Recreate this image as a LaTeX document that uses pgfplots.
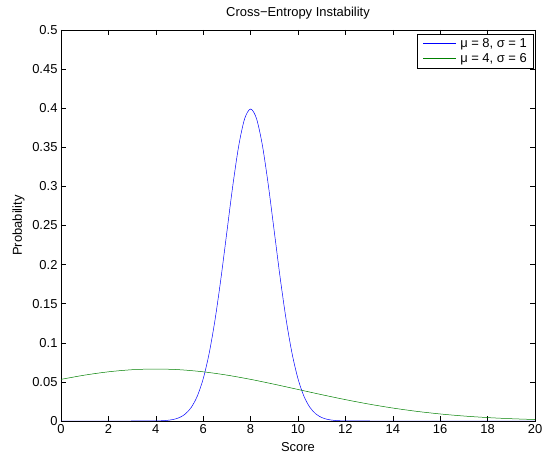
\documentclass[border=0pt]{standalone}
\usepackage{fontspec}
\setmainfont{Liberation Sans}
\usepackage{pgfplots}
\pgfplotsset{compat=1.18}
\definecolor{mblue}{rgb}{0,0,1}
\definecolor{mgreen}{rgb}{0,0.5,0}
\begin{document}
\fontsize{13}{15}\selectfont
\begin{tikzpicture}[x=1bp,y=1bp]
\begin{axis}[
  at={(0,0)}, anchor=south west,
  scale only axis, width=474bp, height=391bp,
  xmin=0, xmax=20, ymin=0, ymax=0.5,
  xtick={0,2,...,20},
  ytick={0,0.05,0.1,0.15,0.2,0.25,0.3,0.35,0.4,0.45,0.5},
  yticklabels={0,0.05,0.1,0.15,0.2,0.25,0.3,0.35,0.4,0.45,0.5},
  tick align=inside, tick pos=both,
  major tick length=5bp,
  tick style={black, line width=0.5pt},
  axis line style={black, line width=0.6pt},
  /pgf/number format/assume math mode=true,
  tick label style={font=\fontsize{13}{15}\selectfont},
  xticklabel style={yshift=1bp},
  yticklabel style={xshift=1bp},
  label style={font=\fontsize{13}{15}\selectfont},
  title style={font=\fontsize{13}{15}\selectfont, yshift=0bp},
  title={Cross\textminus Entropy Instability},
  xlabel={Score}, ylabel={Probability},
  xlabel style={yshift=0bp},
  ylabel style={yshift=-1bp},
  legend style={at={(0.996,0.99)}, anchor=north east, draw=black, line width=0.6pt,
    font=\fontsize{13}{15}\selectfont, inner xsep=4pt, inner ysep=2pt, row sep=0pt,
    /tikz/every odd column/.append style={column sep=0pt}},
  legend cell align=left,
  legend image code/.code={},
]
\addplot[color=mblue, line width=0.5pt, smooth] coordinates {
(0,0) (1,0) (2,0) (3,0.0000015) (3.5,0.000016) (4,0.000134) (4.25,0.000353) (4.5,0.000873) (4.75,0.002029) (5,0.004432)
(5.25,0.00909) (5.5,0.01753) (5.75,0.03174) (6,0.05399) (6.25,0.08628) (6.5,0.12952)
(6.75,0.18265) (7,0.24197) (7.25,0.30114) (7.5,0.35207) (7.75,0.38667) (8,0.39894)
(8.25,0.38667) (8.5,0.35207) (8.75,0.30114) (9,0.24197) (9.25,0.18265) (9.5,0.12952)
(9.75,0.08628) (10,0.05399) (10.25,0.03174) (10.5,0.01753) (10.75,0.00909) (11,0.004432)
(11.25,0.002029) (11.5,0.000873) (11.75,0.000353) (12,0.000134) (12.5,0.000016) (13,0.0000015)
(14,0) (15,0) (16,0) (17,0) (18,0) (19,0) (20,0)
};
\addlegendentry{\textcolor{mblue}{\rule[0.3em]{33bp}{0.6pt}}\hspace{4bp}μ = 8, σ = 1}
\addplot[color=mgreen, line width=0.5pt, smooth] coordinates {
(0,0.05324) (1,0.05868) (2,0.06290) (3,0.06557) (4,0.06649) (5,0.06557) (6,0.06290)
(7,0.05868) (8,0.05324) (9,0.04699) (10,0.04033) (11,0.03367) (12,0.02733) (13,0.02159)
(14,0.01658) (15,0.01238) (16,0.00900) (17,0.00636) (18,0.00437) (19,0.00292) (20,0.00190)
};
\addlegendentry{\textcolor{mgreen}{\rule[0.3em]{33bp}{0.6pt}}\hspace{4bp}μ = 4, σ = 6}
\end{axis}
\pgfresetboundingbox
\path (-61bp,-33bp) rectangle (481bp,421bp);
\end{tikzpicture}
\end{document}
